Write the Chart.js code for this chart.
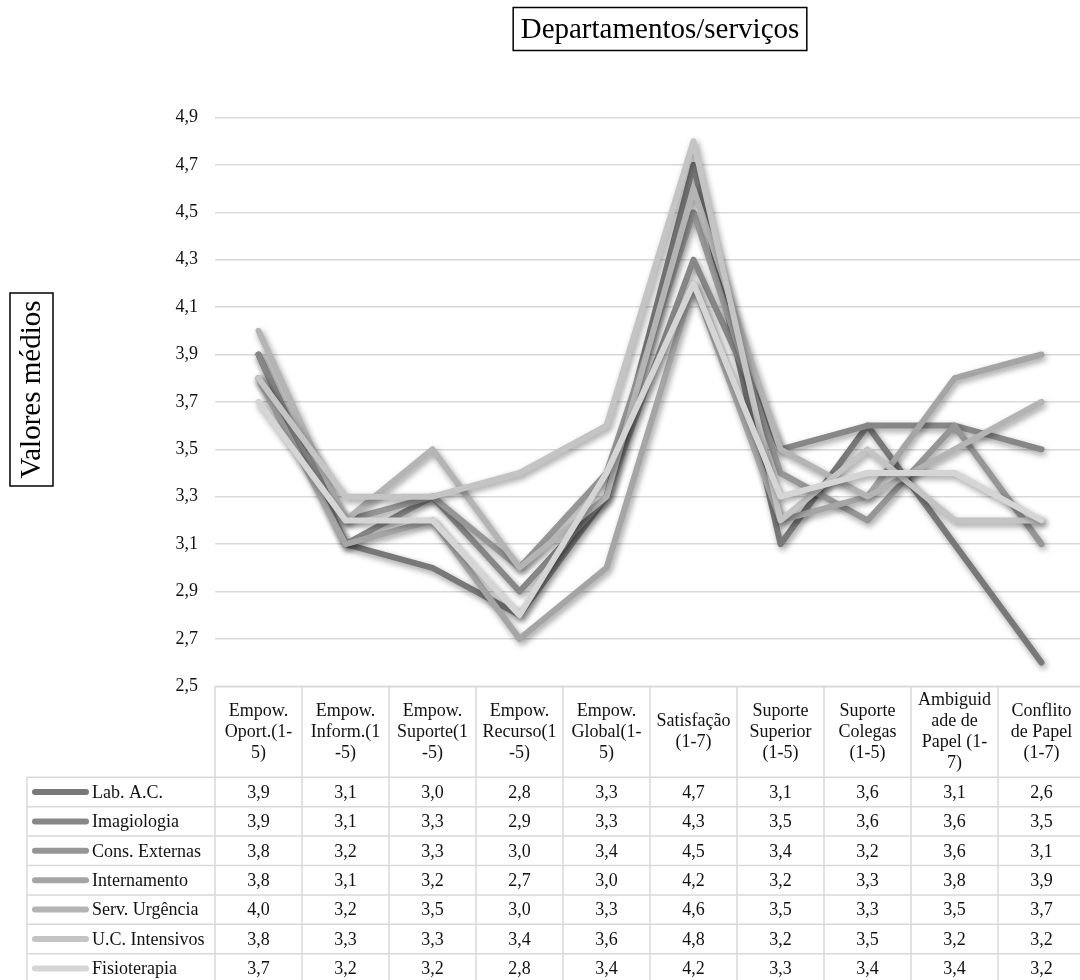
<!DOCTYPE html>
<html><head><meta charset="utf-8">
<script src="https://cdn.jsdelivr.net/npm/chart.js@4.4.1/dist/chart.umd.min.js"></script>
<style>html,body{margin:0;padding:0;overflow:hidden;background:#fff;width:1080px;height:980px}canvas{display:block}</style>
</head><body>
<canvas id="c" width="1090" height="980" style="width:1090px;height:980px"></canvas>
<script>
const categoryLines = [
  ["Empow.","Oport.(1-","5)"],
  ["Empow.","Inform.(1","-5)"],
  ["Empow.","Suporte(1","-5)"],
  ["Empow.","Recurso(1","-5)"],
  ["Empow.","Global(1-","5)"],
  ["Satisfação","(1-7)"],
  ["Suporte","Superior","(1-5)"],
  ["Suporte","Colegas","(1-5)"],
  ["Ambiguid","ade de","Papel (1-","7)"],
  ["Conflito","de Papel","(1-7)"]
];
const seriesNames = ["Lab. A.C.","Imagiologia","Cons. Externas","Internamento","Serv. Urgência","U.C. Intensivos","Fisioterapia"];
const labAC        = [3.9,3.1,3.0,2.8,3.3,4.7,3.1,3.6,3.1,2.6];
const imagiologia  = [3.9,3.1,3.3,2.9,3.3,4.3,3.5,3.6,3.6,3.5];
const consExternas = [3.8,3.2,3.3,3.0,3.4,4.5,3.4,3.2,3.6,3.1];
const internamento = [3.8,3.1,3.2,2.7,3.0,4.2,3.2,3.3,3.8,3.9];
const servUrgencia = [4.0,3.2,3.5,3.0,3.3,4.6,3.5,3.3,3.5,3.7];
const ucIntensivos = [3.8,3.3,3.3,3.4,3.6,4.8,3.2,3.5,3.2,3.2];
const fisioterapia = [3.7,3.2,3.2,2.8,3.4,4.2,3.3,3.4,3.4,3.2];
const seriesValues = [labAC,imagiologia,consExternas,internamento,servUrgencia,ucIntensivos,fisioterapia];
const seriesColors = ["#787878","#878787","#969696","#a5a5a5","#b4b4b4","#c4c4c4","#d5d5d5"];
const yMin = 2.5, yMax = 4.9, yStep = 0.2;
const chartTitle = "Departamentos/serviços";
const yTitle = "Valores médios";

const FONT = "'Liberation Serif','Times New Roman',serif";
const fmt = v => v.toFixed(1).replace('.', ',');

const shadowPlugin = {
  id: 'shadow',
  beforeDatasetsDraw(chart){ const c=chart.ctx; c.save(); c.shadowColor='rgba(0,0,0,0.4)'; c.shadowBlur=6; c.shadowOffsetX=2; c.shadowOffsetY=3; },
  afterDatasetsDraw(chart){ chart.ctx.restore(); }
};

const tablePlugin = {
  id: 'dataTable',
  afterDraw(chart){
    const ctx = chart.ctx, xs = chart.scales.x, area = chart.chartArea;
    const n = categoryLines.length;
    const colW = (xs.right - xs.left) / n;
    const top = area.bottom;
    const headerH = 91, rowH = 29.4, tableLeft = 27;
    const bottom = top + headerH + rowH * seriesNames.length;
    ctx.save();
    ctx.strokeStyle = '#d9d9d9'; ctx.lineWidth = 1.5;
    ctx.beginPath();
    ctx.moveTo(xs.left, top); ctx.lineTo(xs.right, top);
    for (let r = 0; r <= seriesNames.length; r++) {
      const y = top + headerH + r * rowH;
      ctx.moveTo(tableLeft, y); ctx.lineTo(xs.right, y);
    }
    ctx.moveTo(tableLeft, top + headerH); ctx.lineTo(tableLeft, bottom);
    for (let i = 0; i <= n; i++) {
      const x = xs.left + i * colW;
      ctx.moveTo(x, top); ctx.lineTo(x, bottom);
    }
    ctx.stroke();
    ctx.fillStyle = '#111';
    ctx.font = '18px ' + FONT;
    ctx.textAlign = 'center'; ctx.textBaseline = 'middle';
    const lh = 21, cy = top + headerH / 2;
    categoryLines.forEach((lines, i) => {
      const x = xs.getPixelForValue(i);
      const y0 = cy - (lines.length - 1) * lh / 2;
      lines.forEach((t, k) => ctx.fillText(t, x, y0 + k * lh));
    });
    seriesNames.forEach((name, r) => {
      const y = top + headerH + r * rowH + rowH / 2;
      ctx.save();
      ctx.strokeStyle = seriesColors[r]; ctx.lineWidth = 6; ctx.lineCap = 'round';
      ctx.beginPath(); ctx.moveTo(35, y); ctx.lineTo(86, y); ctx.stroke();
      ctx.restore();
      ctx.textAlign = 'left';
      ctx.fillText(name, 92, y + 1);
      ctx.textAlign = 'center';
      seriesValues[r].forEach((v, i) => ctx.fillText(fmt(v), xs.getPixelForValue(i), y + 1));
    });
    ctx.restore();
  }
};

const titlePlugin = {
  id: 'boxedTitles',
  afterDraw(chart){
    const ctx = chart.ctx;
    ctx.save();
    ctx.font = '29px ' + FONT;
    ctx.fillStyle = '#000'; ctx.strokeStyle = '#000'; ctx.lineWidth = 1.5;
    ctx.textAlign = 'center'; ctx.textBaseline = 'middle';
    const w = ctx.measureText(chartTitle).width;
    const tx = 660, ty = 29;
    ctx.strokeRect(tx - w/2 - 7.5, 7.5, w + 15, 43);
    ctx.fillText(chartTitle, tx, ty + 1);
    const w2 = ctx.measureText(yTitle).width;
    ctx.translate(31.5, 389.5);
    ctx.rotate(-Math.PI/2);
    ctx.strokeRect(-w2/2 - 7.5, -21.5, w2 + 15, 43);
    ctx.fillText(yTitle, 0, 1);
    ctx.restore();
  }
};

new Chart(document.getElementById('c'), {
  type: 'line',
  data: {
    labels: categoryLines.map(l => l.join(' ')),
    datasets: seriesNames.map((name, i) => ({
      label: name,
      data: seriesValues[i],
      borderColor: seriesColors[i],
      backgroundColor: seriesColors[i],
      borderWidth: 6,
      borderCapStyle: 'round',
      borderJoinStyle: 'round',
      pointRadius: 0,
      tension: 0,
      fill: false,
      order: seriesNames.length - 1 - i
    }))
  },
  options: {
    responsive: false,
    animation: false,
    devicePixelRatio: 1,
    layout: { padding: { left: 0, right: 5, top: 117.5, bottom: 293.7 } },
    plugins: { legend: { display: false }, tooltip: { enabled: false }, title: { display: false } },
    scales: {
      x: { type: 'category', offset: true, display: false },
      y: {
        min: yMin, max: yMax,
        afterFit(scale){ scale.width = 215; },
        ticks: { stepSize: yStep, padding: 17, color: '#111', font: { family: FONT, size: 18 },
                 callback: v => fmt(v) },
        grid: { color: '#d9d9d9', lineWidth: 1.5, drawTicks: false },
        border: { display: false }
      }
    }
  },
  plugins: [shadowPlugin, tablePlugin, titlePlugin]
});
</script>
</body></html>
